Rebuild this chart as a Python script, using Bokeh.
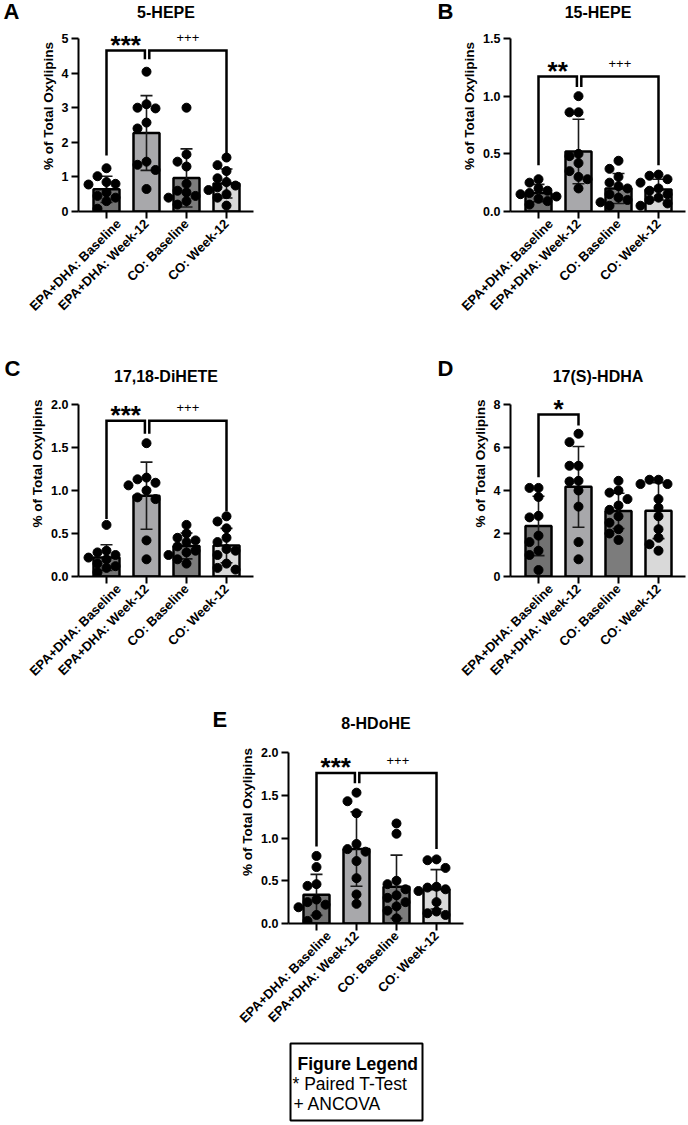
import math
from bokeh.plotting import figure
from bokeh.layouts import row, column
from bokeh.models import Range1d, FixedTicker, PrintfTickFormatter, Label, ColumnDataSource
from bokeh.embed import file_html
from bokeh.resources import INLINE

GROUPS = ["EPA+DHA: Baseline", "EPA+DHA: Week-12", "CO: Baseline", "CO: Week-12"]
BAR_COLORS = ["#727272", "#a8a8ab", "#7c7c7c", "#d9d9d9"]

# ---- 5-HEPE ----
hepe5_mean = [0.64, 2.27, 0.97, 0.81]
hepe5_sd = [0.38, 1.08, 0.84, 0.42]
hepe5_pts = [
    [1.25, 1.02, 0.85, 0.80, 0.78, 0.55, 0.45, 0.40, 0.30, 0.08],
    [4.04, 3.10, 3.00, 2.98, 2.57, 2.40, 1.44, 1.35, 1.20, 0.65],
    [3.00, 1.65, 1.44, 1.30, 0.80, 0.60, 0.55, 0.45, 0.40, 0.30, 0.20],
    [1.56, 1.34, 1.17, 0.96, 0.85, 0.75, 0.70, 0.62, 0.50, 0.40, 0.17],
]
hepe5_sig = [(0, 1, 4.65, 1.62, 4.40, "***"), (1, 3, 4.65, 4.40, 1.62, "+++")]

# ---- 15-HEPE ----
hepe15_mean = [0.16, 0.52, 0.20, 0.19]
hepe15_sd = [0.075, 0.28, 0.13, 0.09]
hepe15_pts = [
    [0.28, 0.25, 0.20, 0.18, 0.16, 0.15, 0.13, 0.11, 0.09, 0.06],
    [1.00, 0.86, 0.86, 0.50, 0.48, 0.42, 0.35, 0.30, 0.28, 0.20],
    [0.44, 0.37, 0.30, 0.25, 0.22, 0.20, 0.15, 0.12, 0.10, 0.08, 0.05],
    [0.32, 0.31, 0.28, 0.25, 0.20, 0.18, 0.15, 0.12, 0.10, 0.07, 0.05],
]
hepe15_sig = [(0, 1, 1.17, 0.40, 1.08, "**"), (1, 3, 1.17, 1.08, 0.40, "+++")]

# ---- 17,18-DiHETE ----
dihete_mean = [0.22, 0.94, 0.355, 0.36]
dihete_sd = [0.15, 0.39, 0.15, 0.20]
dihete_pts = [
    [0.60, 0.30, 0.28, 0.25, 0.22, 0.20, 0.15, 0.12, 0.10, 0.05],
    [1.55, 1.15, 1.13, 1.09, 1.06, 1.00, 0.92, 0.90, 0.42, 0.20],
    [0.60, 0.50, 0.45, 0.42, 0.40, 0.35, 0.30, 0.28, 0.25, 0.20, 0.15],
    [0.70, 0.64, 0.56, 0.45, 0.40, 0.32, 0.30, 0.25, 0.15, 0.10, 0.08],
]
dihete_sig = [(0, 1, 1.81, 0.67, 1.66, "***"), (1, 3, 1.81, 1.66, 0.76, "+++")]

# ---- 17(S)-HDHA ----
hdha_mean = [2.35, 4.17, 3.05, 3.06]
hdha_sd = [1.38, 1.88, 0.82, 1.30]
hdha_pts = [
    [4.12, 4.12, 3.70, 2.82, 2.75, 1.90, 1.60, 1.20, 1.00, 0.30],
    [6.64, 6.25, 5.15, 5.15, 4.45, 4.42, 4.00, 3.25, 1.60, 0.80],
    [4.45, 4.00, 3.90, 3.60, 3.30, 3.10, 2.80, 2.50, 2.20, 2.00, 1.70],
    [4.50, 4.50, 4.30, 4.30, 3.60, 3.20, 2.80, 2.20, 1.80, 1.50, 1.20],
]
hdha_sig = [(0, 1, 7.53, 4.62, 7.02, "*")]

# ---- 8-HDoHE ----
hdohe_mean = [0.335, 0.87, 0.43, 0.40]
hdohe_sd = [0.24, 0.435, 0.37, 0.23]
hdohe_pts = [
    [0.79, 0.66, 0.46, 0.44, 0.28, 0.25, 0.22, 0.19, 0.10, 0.03],
    [1.53, 1.43, 1.29, 0.93, 0.87, 0.84, 0.73, 0.53, 0.34, 0.23],
    [1.17, 1.05, 0.50, 0.46, 0.40, 0.33, 0.30, 0.25, 0.20, 0.15, 0.06],
    [0.75, 0.74, 0.65, 0.43, 0.42, 0.40, 0.38, 0.25, 0.14, 0.12, 0.10],
]
hdohe_sig = [(0, 1, 1.76, 0.90, 1.64, "***"), (1, 3, 1.76, 1.64, 0.87, "+++")]

FONT = "Liberation Sans"
FRAME_W = 175
AX_LEFT = 52          # room for y tick labels and axis title
PX_PER_GROUP = 40.0
X_MIN = -0.7
X_MAX = X_MIN + FRAME_W / PX_PER_GROUP
BAR_W = 0.65
DOT = 9


def swarm(values, ppu, step=9.0, gap=8.6, max_k=2):
    """Horizontal pixel offsets so that dots at similar heights sit side by side."""
    order = sorted(range(len(values)), key=lambda i: -values[i])
    placed, offs = [], [0.0] * len(values)
    cands = [0]
    for m in range(1, max_k + 1):
        cands += [-m, m]
    for i in order:
        y = values[i] * ppu
        best, best_d = 0.0, -1.0
        for c in cands:
            x = c * step
            d = min([math.hypot(x - px, y - py) for px, py in placed] or [1e9])
            if d >= gap:
                best = x
                break
            if d > best_d:
                best, best_d = x, d
        placed.append((best, y))
        offs[i] = best
    return offs


def style_axis(ax):
    ax.axis_line_width = 2
    ax.axis_line_color = "black"
    ax.major_tick_line_width = 2
    ax.major_tick_line_color = "black"
    ax.major_tick_out = 7
    ax.major_tick_in = 0
    ax.minor_tick_line_color = None
    ax.major_label_text_font = FONT
    ax.major_label_text_font_style = "bold"
    ax.major_label_text_color = "black"
    ax.major_label_standoff = 3


def text_label(x, y, text, size, bold=True, align="center"):
    return Label(x=x, y=y, text=text, text_align=align, text_baseline="middle",
                 text_font=FONT, text_font_style="bold" if bold else "normal",
                 text_font_size=size, text_color="black")


def panel(title, pts, means, sds, sigs, ymax, yticks, fmt,
          fig_w, fig_h, top_px, plot_h, title_dy):
    """top_px: space above the value axis inside the frame; plot_h: pixel height of 0..ymax."""
    ppu = plot_h / ymax
    y_end = (top_px + plot_h) / ppu
    bottom = fig_h - top_px - plot_h
    right = fig_w - AX_LEFT - FRAME_W
    p = figure(width=fig_w, height=fig_h, output_backend="svg", toolbar_location=None, tools="",
               title=None, x_range=Range1d(X_MIN, X_MAX), y_range=Range1d(0, y_end),
               min_border_left=AX_LEFT, min_border_right=right,
               min_border_top=0, min_border_bottom=bottom)
    p.outline_line_color = None
    p.grid.visible = False

    style_axis(p.xaxis[0])
    style_axis(p.yaxis[0])
    p.xaxis.ticker = FixedTicker(ticks=list(range(len(GROUPS))))
    p.xaxis.major_label_overrides = {i: g for i, g in enumerate(GROUPS)}
    p.xaxis.major_label_orientation = math.pi / 4
    p.xaxis.major_label_text_font_size = "13px"
    p.yaxis.bounds = (0, ymax)
    p.yaxis.ticker = FixedTicker(ticks=yticks)
    p.yaxis.formatter = PrintfTickFormatter(format=fmt)
    p.yaxis.major_label_text_font_size = "12.5px"
    p.yaxis.axis_label = "% of Total Oxylipins"
    p.yaxis.axis_label_text_font = FONT
    p.yaxis.axis_label_text_font_style = "bold"
    p.yaxis.axis_label_text_font_size = "13.5px"
    p.yaxis.axis_label_text_color = "black"
    p.yaxis.axis_label_standoff = 3

    idx = list(range(len(GROUPS)))
    p.vbar(x=idx, top=means, width=BAR_W, fill_color=BAR_COLORS,
           line_color="black", line_width=2.5)

    # mean +/- SD whiskers
    cap = 6.0 / PX_PER_GROUP
    x0, y0, x1, y1 = [], [], [], []
    for i, (m, s) in enumerate(zip(means, sds)):
        lo, hi = m - s, m + s
        x0 += [i, i - cap, i - cap]
        x1 += [i, i + cap, i + cap]
        y0 += [lo, hi, lo]
        y1 += [hi, hi, lo]
    p.segment(x0=x0, y0=y0, x1=x1, y1=y1, line_color="#1a1a1a", line_width=1.6)

    # individual subjects
    xs, ys = [], []
    for i, vals in enumerate(pts):
        offs = swarm(vals, ppu)
        xs += [i + o / PX_PER_GROUP for o in offs]
        ys += list(vals)
    p.scatter(x="x", y="y", source=ColumnDataSource(dict(x=xs, y=ys)),
              size=DOT, fill_color="black", line_color="black")

    # significance brackets
    bx, by = [], []
    for (l, r, ytop, yl, yr, mark) in sigs:
        xl = l + (0.07 if (l == 1 and len(sigs) > 1) else 0.0)
        xr = r - (0.04 if (r == 1 and len(sigs) > 1) else 0.0)
        bx.append([xl, xl, xr, xr])
        by.append([yl, ytop, ytop, yr])
        xm = (xl + xr) / 2
        if mark.startswith("*"):
            p.add_layout(text_label(xm, ytop + 6 / ppu, mark, "26px"))
        else:
            p.add_layout(text_label(xm, ytop + 13 / ppu, mark, "13px", bold=False))
    p.multi_line(xs=bx, ys=by, line_color="black", line_width=2.5, line_join="miter")

    p.add_layout(text_label((X_MIN + X_MAX) / 2, ymax + title_dy / ppu, title, "16px"))
    return p


def letter_fig(width, height, letter, x, yc):
    """Blank strip carrying a panel letter (pixel coordinates, y downward)."""
    f = figure(width=width, height=height, output_backend="svg", toolbar_location=None, tools="",
               title=None, x_range=Range1d(0, width), y_range=Range1d(height, 0),
               x_axis_location=None, y_axis_location=None,
               min_border_left=0, min_border_right=0, min_border_top=0, min_border_bottom=0)
    f.outline_line_color = None
    f.grid.visible = False
    f.add_layout(text_label(x, yc, letter, "22px", align="left"))
    return f


pA = panel("5-HEPE", hepe5_pts, hepe5_mean, hepe5_sd, hepe5_sig, 5, [0, 1, 2, 3, 4, 5], "%d",
           234, 350, 38, 173, 26)
pB = panel("15-HEPE", hepe15_pts, hepe15_mean, hepe15_sd, hepe15_sig, 1.5, [0, 0.5, 1.0, 1.5], "%.1f",
           230, 350, 38, 173, 26)
pC = panel("17,18-DiHETE", dihete_pts, dihete_mean, dihete_sd, dihete_sig, 2.0,
           [0, 0.5, 1.0, 1.5, 2.0], "%.1f", 234, 350, 54, 172, 28)
pD = panel("17(S)-HDHA", hdha_pts, hdha_mean, hdha_sd, hdha_sig, 8, [0, 2, 4, 6, 8], "%d",
           230, 350, 54, 172, 28)
pE = panel("8-HDoHE", hdohe_pts, hdohe_mean, hdohe_sd, hdohe_sig, 2.0,
           [0, 0.5, 1.0, 1.5, 2.0], "%.1f", 234, 340, 52, 171, 29)

# boxed figure legend
leg = figure(width=688, height=85, output_backend="svg", toolbar_location=None, tools="",
             title=None, x_range=Range1d(0, 1), y_range=Range1d(0, 1),
             x_axis_location=None, y_axis_location=None,
             min_border_left=290, min_border_right=266, min_border_top=3, min_border_bottom=5)
leg.grid.visible = False
leg.outline_line_color = "black"
leg.outline_line_width = 2
LW, LH = 132.0, 77.0
for txt, px, py, bold in [("Figure Legend", 7, 20, True),
                          ("* Paired T-Test", 2, 40, False),
                          ("+ ANCOVA", 3, 60, False)]:
    leg.add_layout(text_label(px / LW, 1 - py / LH, txt, "17.5px", bold=bold, align="left"))

layout = column(
    row(letter_fig(26, 350, "A", 3, 17.5), pA, letter_fig(198, 350, "B", 177, 17.5), pB),
    row(letter_fig(26, 350, "C", 4, 27.5), pC, letter_fig(198, 350, "D", 177, 27.5), pD),
    row(letter_fig(236, 340, "E", 212, 29), pE),
    leg,
)

open("out.html", "w").write(file_html(layout, INLINE))
